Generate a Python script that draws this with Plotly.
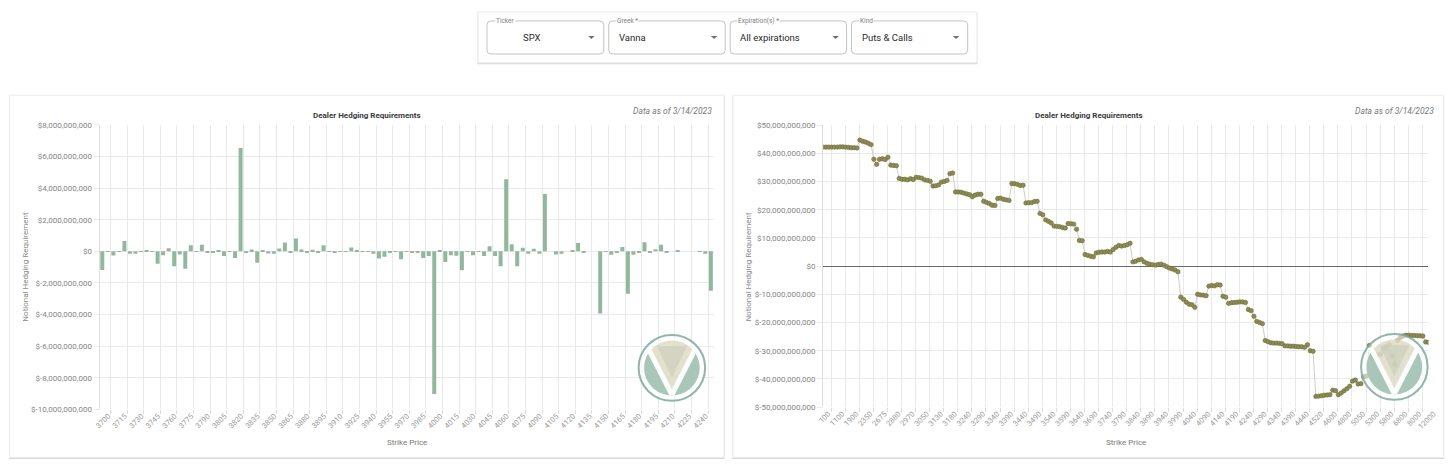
import math
import plotly.graph_objects as go

W, H = 1456, 468
FONT = "Roboto, Arial, sans-serif"
GRID = "#e9e9e9"


def X(px):
    return px / W


def Y(py):
    return 1 - py / H


# ---------------- data: left chart (per strike vanna hedging, $) ----------------
left_strikes = [
    3700, 3705, 3710, 3715, 3720, 3725, 3730, 3735, 3740, 3745, 3750, 3755, 3760, 3765, 3770,
    3775, 3780, 3785, 3790, 3795, 3800, 3805, 3810, 3815, 3820, 3825, 3830, 3835, 3840, 3845,
    3850, 3855, 3860, 3865, 3870, 3875, 3880, 3885, 3890, 3895, 3900, 3905, 3910, 3915, 3920,
    3925, 3930, 3935, 3940, 3945, 3950, 3955, 3960, 3965, 3970, 3975, 3980, 3985, 3990, 3995,
    4000, 4005, 4010, 4015, 4020, 4025, 4030, 4035, 4040, 4045, 4050, 4055, 4060, 4065, 4070,
    4075, 4080, 4085, 4090, 4095, 4100, 4105, 4110, 4115, 4120, 4125, 4130, 4135, 4140, 4145,
    4150, 4155, 4160, 4165, 4170, 4175, 4180, 4185, 4190, 4195, 4200, 4205, 4210, 4215, 4220,
    4225, 4230, 4235, 4240, 4245, 4250,
]
left_values = [
    -1.18e9, 0.01e9, -0.27e9, -0.03e9, 0.66e9, -0.15e9, -0.15e9, 0.02e9, 0.03e9, -0.01e9,
    -0.78e9, -0.25e9, 0.20e9, -0.95e9, -0.20e9, -1.10e9, 0.38e9, 0.01e9, 0.42e9, -0.10e9,
    -0.05e9, 0.05e9, -0.30e9, 0.01e9, -0.42e9, 6.54e9, -0.08e9, 0.12e9, -0.72e9, 0.03e9,
    -0.13e9, -0.15e9, 0.18e9, 0.56e9, -0.08e9, 0.82e9, 0.12e9, -0.06e9, 0.10e9, -0.06e9,
    0.38e9, 0.01e9, -0.10e9, 0.01e9, 0.02e9, 0.25e9, 0.05e9, 0.01e9, -0.02e9, -0.15e9,
    -0.45e9, -0.35e9, -0.10e9, -0.02e9, -0.50e9, 0.01e9, -0.10e9, -0.10e9, -0.42e9, -0.30e9,
    -9.03e9, 0.03e9, -0.68e9, -0.25e9, -0.28e9, -1.20e9, 0.02e9, -0.25e9, 0.02e9, -0.30e9,
    0.33e9, -0.30e9, -0.95e9, 4.56e9, 0.45e9, -0.95e9, 0.22e9, -0.15e9, 0.17e9, -0.15e9,
    3.63e9, 0.00e9, -0.20e9, -0.15e9, 0.00e9, 0.08e9, 0.52e9, -0.08e9, 0.00e9, 0.00e9,
    -3.94e9, 0.01e9, -0.22e9, -0.08e9, 0.27e9, -2.68e9, -0.22e9, -0.08e9, 0.57e9, -0.07e9,
    0.13e9, 0.42e9, -0.07e9, 0.00e9, 0.03e9, 0.00e9, 0.00e9, 0.00e9, 0.01e9, -0.15e9,
    -2.49e9,
]
left_tick_labels = [
    "3700", "3715", "3730", "3745", "3760", "3775", "3790", "3805", "3820", "3835", "3850",
    "3865", "3880", "3895", "3910", "3925", "3940", "3955", "3970", "3985", "4000", "4015",
    "4030", "4045", "4060", "4075", "4090", "4105", "4120", "4135", "4150", "4165", "4180",
    "4195", "4210", "4225", "4240",
]
left_y_ticks = [-10e9, -8e9, -6e9, -4e9, -2e9, 0, 2e9, 4e9, 6e9, 8e9]

# ---------------- data: right chart (cumulative hedging, $) ----------------
right_values_bn = [
    42.2, 42.2, 42.2, 42.2, 42.2, 42.2, 42.3, 42.3, 42.2, 42.1, 42.0, 42.0, 41.9,
    44.7, 44.3, 44.0, 43.6, 43.1,
    37.9, 36.1, 37.9, 38.1, 37.8, 38.6,
    35.8, 35.7, 35.6,
    31.1, 30.8, 30.8, 30.6, 31.0, 30.7, 31.5, 31.4, 31.2, 30.6, 30.4, 30.1,
    28.4, 28.5, 28.8, 29.8, 30.0, 30.4, 32.8, 33.0,
    26.3, 26.3, 26.2, 25.9, 25.6, 25.3, 24.6, 25.2, 25.5, 25.5,
    23.0, 22.6, 22.2, 21.6, 21.5, 24.0, 24.1, 23.7, 23.5, 23.3,
    29.3, 29.2, 29.0, 28.6, 28.7,
    22.4, 22.5, 22.5, 22.9, 23.0,
    18.7, 18.2, 16.4, 15.9, 15.3, 14.2, 14.1, 14.0, 13.7, 13.5, 15.1, 15.0, 14.9, 13.1,
    9.1, 9.0,
    4.1, 3.8, 3.5, 3.3, 4.7, 4.9, 5.0, 5.0, 5.2, 5.0, 5.9, 6.7, 7.3, 7.1, 7.3, 7.6, 8.1,
    1.5, 1.7, 2.2, 2.4, 1.5, 1.0, 0.7, 0.5, 0.35, 0.6, 0.7, 0.35, -0.2, -0.7, -1.0, -1.4, -2.0,
    -11.0, -11.8, -12.8, -13.5, -13.7, -14.6,
    -10.0, -10.2, -10.3, -10.5,
    -7.1, -6.9, -7.0, -6.6, -6.7,
    -10.7, -11.0,
    -13.2, -13.0, -12.9, -12.8, -12.7, -12.7, -12.9,
    -15.4, -15.8, -17.8,
    -19.6, -20.0, -20.4,
    -26.4, -26.8, -27.2, -27.3, -27.3, -27.4, -27.5,
    -28.3, -28.3, -28.4, -28.4, -28.5, -28.6, -28.6, -28.8,
    -27.9, -30.0, -30.2,
    -46.2, -46.1, -46.0, -45.8, -45.7, -45.6,
    -44.0, -44.2, -45.6, -45.0, -44.2, -43.5, -42.6, -40.8, -40.4, -41.8, -41.7, -39.2, -39.0,
    -28.1, -32.2, -31.8, -31.5, -31.2, -29.4, -28.5, -27.8, -31.8, -34.9,
    -26.3, -25.3, -24.8, -24.5, -24.5, -24.6, -24.6, -24.7, -24.7, -24.8,
    -26.9, -27.0,
]
right_values = [v * 1e9 for v in right_values_bn]
right_tick_labels = [
    "100", "1100", "1900", "2350", "2675", "2880", "2970", "3050", "3130", "3180",
    "3240", "3290", "3340", "3390", "3440", "3490", "3540", "3590", "3640", "3690",
    "3740", "3790", "3840", "3890", "3940", "3990", "4040", "4090", "4140", "4190",
    "4240", "4290", "4340", "4390", "4440", "4520", "4600", "4800", "5050", "5300",
    "5800", "6800", "8000", "12000",
]
right_y_ticks = [-50e9, -40e9, -30e9, -20e9, -10e9, 0, 10e9, 20e9, 30e9, 40e9, 50e9]


def money(v):
    return "$" + f"{int(v):,}"


# ---------------- figure ----------------
fig = go.Figure()

fig.add_trace(go.Bar(
    x=left_strikes, y=left_values, xaxis="x", yaxis="y",
    marker=dict(color="rgb(145,184,157)", line=dict(width=0)),
    width=3.6, showlegend=False, hoverinfo="skip",
))

right_x = list(range(len(right_values)))
fig.add_trace(go.Scatter(
    x=right_x, y=right_values, xaxis="x2", yaxis="y2",
    mode="lines+markers",
    line=dict(color="rgb(205,205,205)", width=1),
    marker=dict(size=4.4, color="rgb(141,140,82)", line=dict(color="rgb(110,109,60)", width=0.6)),
    showlegend=False, hoverinfo="skip",
))

n_right = len(right_values)
right_tickvals = [5 * j for j in range(len(right_tick_labels))]

fig.update_layout(
    width=W, height=H,
    margin=dict(l=0, r=0, t=0, b=0),
    paper_bgcolor="white",
    plot_bgcolor="rgba(0,0,0,0)",
    font=dict(family=FONT),
    bargap=0.28,
    xaxis=dict(
        domain=[X(94.5), X(715)], anchor="y", range=[3697.5, 4252.5],
        tickmode="array", tickvals=[int(t) for t in left_tick_labels], ticktext=left_tick_labels,
        tickangle=-45, tickfont=dict(size=7.5, color="#999999", family=FONT),
        ticks="", showgrid=False, zeroline=False, showline=False, ticklabelshift=6,
        minor=dict(tickmode="linear", tick0=3707.5, dtick=15, showgrid=True, gridcolor=GRID,
                   gridwidth=1, ticks="outside", ticklen=4, tickcolor="#dcdcdc"),
        fixedrange=True,
    ),
    yaxis=dict(
        domain=[Y(413.3), Y(123.3)], anchor="x", range=[-10e9, 8e9],
        tickmode="array", tickvals=left_y_ticks, ticktext=[money(v) for v in left_y_ticks],
        tickfont=dict(size=8, color="#858585", family=FONT),
        showgrid=True, gridcolor=GRID, gridwidth=1, ticks="outside", ticklen=5, tickcolor=GRID,
        zeroline=False, showline=True, linecolor="#dddddd", linewidth=1,
    ),
    xaxis2=dict(
        domain=[X(825.7), X(1437.3)], anchor="y2", range=[0, n_right - 1],
        tickmode="array", tickvals=right_tickvals, ticktext=right_tick_labels,
        tickangle=-45, tickfont=dict(size=7.5, color="#999999", family=FONT),
        ticks="", showgrid=False, zeroline=False, showline=False, ticklabelshift=5,
        minor=dict(tickmode="linear", tick0=2.81, dtick=5, showgrid=True, gridcolor=GRID,
                   gridwidth=1, ticks="outside", ticklen=4, tickcolor="#dcdcdc"),
    ),
    yaxis2=dict(
        domain=[Y(411), Y(123.5)], anchor="x2", range=[-50e9, 50e9],
        tickmode="array", tickvals=right_y_ticks, ticktext=[money(v) for v in right_y_ticks],
        tickfont=dict(size=8, color="#858585", family=FONT),
        showgrid=True, gridcolor=GRID, gridwidth=1, ticks="outside", ticklen=5, tickcolor=GRID,
        zeroline=True, zerolinecolor="#6a6a6a", zerolinewidth=1,
        showline=True, linecolor="#dddddd", linewidth=1,
    ),
)

# ---------------- decoration: cards, selects ----------------
shapes = []


def rect(x0, y0, x1, y1, fill, line=None, width=0, layer="below"):
    return dict(type="rect", xref="paper", yref="paper", x0=X(x0), x1=X(x1), y0=Y(y1), y1=Y(y0),
                fillcolor=fill, line=dict(color=line or fill, width=width), layer=layer)


def rrect(x0, y0, x1, y1, r, line, width=1):
    p = (f"M {X(x0 + r)},{Y(y0)} L {X(x1 - r)},{Y(y0)} Q {X(x1)},{Y(y0)} {X(x1)},{Y(y0 + r)} "
         f"L {X(x1)},{Y(y1 - r)} Q {X(x1)},{Y(y1)} {X(x1 - r)},{Y(y1)} "
         f"L {X(x0 + r)},{Y(y1)} Q {X(x0)},{Y(y1)} {X(x0)},{Y(y1 - r)} "
         f"L {X(x0)},{Y(y0 + r)} Q {X(x0)},{Y(y0)} {X(x0 + r)},{Y(y0)} Z")
    return dict(type="path", xref="paper", yref="paper", path=p,
                line=dict(color=line, width=width), fillcolor="rgba(0,0,0,0)", layer="below")


# card shadows + cards
for (x0, y0, x1, y1) in [(477, 8, 981, 60), (3.5, 93, 725.5, 462.5), (734.5, 93, 1452.5, 462.5)]:
    shapes.append(rect(x0 - 0.5, y0 + 0.5, x1 + 0.5, y1 + 1.5, "#d6d6d6"))
    shapes.append(rect(x0, y0, x1, y1, "white", "#ececec", 1))

select_boxes = [(486, 17.3, 604, 51), (609, 17.3, 726.7, 51), (731.7, 17.3, 849.3, 51), (854.3, 17.3, 971.7, 51)]
for b in select_boxes:
    shapes.append(rrect(*b, 4, "#c4c4c4", 1))

arrow_x = [591.5, 715.5, 838.3, 960]
for ax in arrow_x:
    p = f"M {X(ax - 3.3)},{Y(32.5)} L {X(ax + 3.3)},{Y(32.5)} L {X(ax)},{Y(35.8)} Z"
    shapes.append(dict(type="path", xref="paper", yref="paper", path=p,
                       fillcolor="#6f6f6f", line=dict(width=0), layer="above"))


# ---------------- watermark logo ----------------
def circle(cx, cy, r, fill, line=None, width=0):
    return dict(type="circle", xref="paper", yref="paper",
                x0=X(cx - r), x1=X(cx + r), y0=Y(cy + r), y1=Y(cy - r),
                fillcolor=fill, line=dict(color=line or "rgba(0,0,0,0)", width=width), layer="above")


def poly(pts, fill):
    p = "M " + " L ".join(f"{X(a)},{Y(b)}" for a, b in pts) + " Z"
    return dict(type="path", xref="paper", yref="paper", path=p,
                fillcolor=fill, line=dict(width=0), layer="above")


def logo(cx, cy):
    out = []
    R, r = 33.6, 28
    out.append(circle(cx, cy, R, "rgba(255,255,255,0.55)", "rgba(125,168,156,0.85)", 2))
    out.append(circle(cx, cy, r, "rgba(214,212,186,0.7)"))
    # lower-left teal
    pts = []
    for i in range(0, 41):
        th = math.radians(217.9 - (217.9 - 90) * i / 40)
        pts.append((cx + r * math.cos(th), cy + r * math.sin(th)))
    pts.append((cx, cy + 27))
    out.append(poly(pts, "rgba(150,189,178,0.75)"))
    # lower-right teal (mirror)
    pts = [(2 * cx - a, b) for a, b in pts]
    out.append(poly(pts, "rgba(150,189,178,0.75)"))
    # inner triangle tint
    out.append(poly([(cx - 15, cy - 22), (cx + 15, cy - 22), (cx, cy + 10)], "rgba(196,202,180,0.5)"))
    # white V
    for s in (-1, 1):
        out.append(dict(type="line", xref="paper", yref="paper",
                        x0=X(cx + s * 24), y0=Y(cy - 20), x1=X(cx), y1=Y(cy + 27.5),
                        line=dict(color="rgba(255,255,255,0.95)", width=5), layer="above"))
    return out


shapes += logo(672.8, 371)
shapes += logo(1402.8, 370)

fig.update_layout(shapes=shapes)

# ---------------- annotations ----------------
anns = []


def ann(text, x, y, size, color, xanchor="center", yanchor="middle", **kw):
    d = dict(text=text, x=X(x), y=Y(y), xref="paper", yref="paper", showarrow=False,
             xanchor=xanchor, yanchor=yanchor, font=dict(size=size, color=color, family=FONT))
    d.update(kw)
    return d


# select labels and values
for txt, x in [("Ticker", 494), ("Greek *", 616), ("Expiration(s) *", 738.5), ("Kind", 861.5)]:
    anns.append(ann(txt, x, 17.3, 6.5, "#808080", xanchor="left", bgcolor="white", borderpad=0))
for txt, x in [("SPX", 520), ("Vanna", 617.5), ("All expirations", 739.3), ("Puts &amp; Calls", 862.5)]:
    anns.append(ann(txt, x, 34, 9.5, "#2a2a2a", xanchor="left"))

# chart titles etc.
for cx_title, right_edge, ytitle_x, plot_cx, plot_cy in [(364.5, 715.5, 20, 404.7, 268),
                                                         (1093.8, 1444.5, 750.5, 1131.5, 268)]:
    anns.append(ann("<b>Dealer Hedging Requirements</b>", cx_title, 113.3, 8, "#3a3a3a"))
    anns.append(ann("<i>Data as of 3/14/2023</i>", right_edge, 109, 8.5, "#7a7a7a", xanchor="right"))
    anns.append(ann("Notional Hedging Requirement", ytitle_x, plot_cy, 8, "#8a8a8a", textangle=-90))
    anns.append(ann("Strike Price", plot_cx, 446.7, 8, "#7a7a7a"))

fig.update_layout(annotations=anns)

fig.write_html("out.html")
